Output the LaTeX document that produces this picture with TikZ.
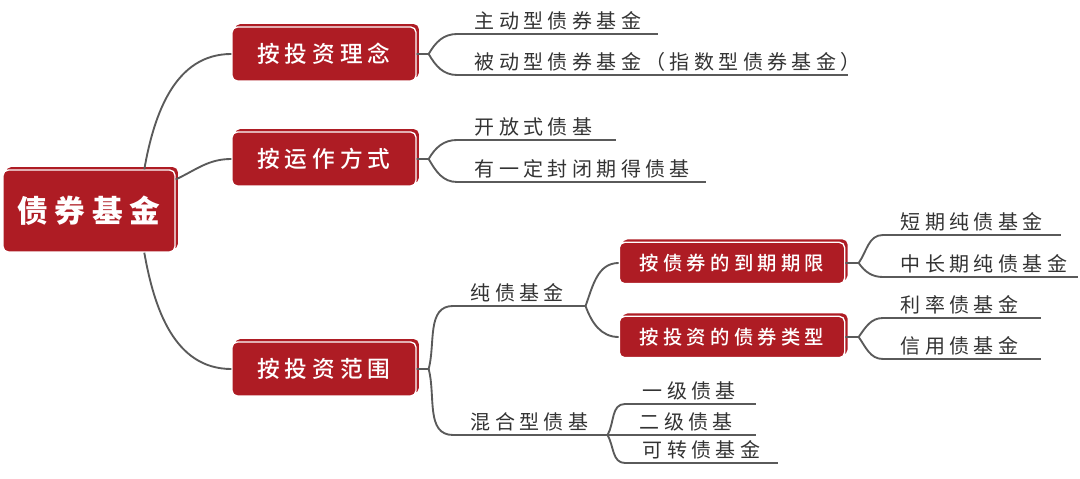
\documentclass[tikz,border=0pt]{standalone}
\usepackage{fontspec}
\setmainfont{Noto Sans CJK SC}[LetterSpace=22]
\newfontfamily\mediumcjk{Noto Sans CJK SC Medium}[LetterSpace=22]
\usetikzlibrary{positioning, shadows}

\definecolor{boxred}{HTML}{AE1C24}
\definecolor{linegray}{HTML}{5A5A5A}
\definecolor{textgray}{HTML}{333333}

\begin{document}
\begin{tikzpicture}[
    x=0.75pt, y=0.75pt,
    line/.style={draw=linegray, line width=1.4pt},
    box/.style={fill=boxred, draw=white, line width=1pt, rounded corners=4pt, text=white, inner sep=0pt,
        general shadow={fill=boxred, shadow xshift=2.2pt, shadow yshift=2.2pt}},
    rootbox/.style={box, minimum width=129pt, minimum height=61.5pt, font=\bfseries\fontsize{23}{23}\selectfont},
    topicbox/.style={box, minimum width=138pt, minimum height=40.5pt, font=\mediumcjk\fontsize{17}{17}\selectfont},
    subbox/.style={box, minimum width=169pt, minimum height=31pt, font=\mediumcjk\fontsize{14.5}{14.5}\selectfont},
    leaf/.style={anchor=south west, inner xsep=0pt, inner ysep=2.5pt, text width=#1, align=left,
        text=textgray, font=\fontsize{15}{15}\selectfont, execute at begin node=\hspace*{13pt}}
]
\useasboundingbox (0,0) rectangle (1080,478);

% Boxes
\node[rootbox] (root) at (89,267) {债券基金};
\node[topicbox] (b1) at (324,424) {按投资理念};
\node[topicbox] (b2) at (324,319) {按运作方式};
\node[topicbox] (b3) at (324,109) {按投资范围};
\node[subbox] (sA) at (732,215) {按债券的到期期限};
\node[subbox] (sB) at (732,141) {按投资的债券类型};

% Leaves
\node[leaf=150pt] (L11) at (457,444) {主动型债券基金};
\node[leaf=293pt] (L12) at (457,403) {被动型债券基金（指数型债券基金）};
\node[leaf=118.5pt] (L21) at (457,338) {开放式债基};
\node[leaf=186pt] (L22) at (457,296) {有一定封闭期得债基};
\node[leaf=99pt] (Lc) at (453,172) {纯债基金};
\node[leaf=115.5pt] (Lm) at (453,43) {混合型债基};
\node[leaf=133pt] (LA1) at (883,243) {短期纯债基金};
\node[leaf=145.5pt] (LA2) at (883,201) {中长期纯债基金};
\node[leaf=118pt] (LB1) at (883,160) {利率债基金};
\node[leaf=118pt] (LB2) at (883,119) {信用债基金};
\node[leaf=97.5pt] (Lm1) at (625,74) {一级债基};
\node[leaf=100pt] (Lm2) at (622,43) {二级债基};
\node[leaf=114pt] (Lm3) at (625,15) {可转债基金};

% Junctions
\coordinate[right=9pt of b1] (j1);
\coordinate[right=9pt of b2] (j2);
\coordinate[right=9pt of b3] (j3);
\coordinate[right=10pt of sA] (jA);
\coordinate[right=10pt of sB] (jB);

% Root branches
\draw[line] (root.37) to[out=80, in=180] (b1.west);
\draw[line] (root.20) to[out=25, in=180] (b2.west);
\draw[line] (root.-37) to[out=-80, in=180] (b3.west);

% Underlines
\foreach \n in {L11,L12,L21,L22,Lc,Lm,LA1,LA2,LB1,LB2,Lm1,Lm2,Lm3}
  \draw[line] (\n.south west) -- (\n.south east);

% Box branches
\draw[line] (b1.east) -- (j1) to[out=60, in=180] (L11.south west);
\draw[line] (j1) to[out=-60, in=180] (L12.south west);
\draw[line] (b2.east) -- (j2) to[out=60, in=180] (L21.south west);
\draw[line] (j2) to[out=-60, in=180] (L22.south west);
\draw[line] (b3.east) -- (j3) to[out=75, in=180] (Lc.south west);
\draw[line] (j3) to[out=-75, in=180] (Lm.south west);

\draw[line] (Lc.south east) to[out=70, in=180] (sA.west);
\draw[line] (Lc.south east) to[out=-70, in=180] (sB.west);
\draw[line] (sA.east) -- (jA) to[out=55, in=180] (LA1.south west);
\draw[line] (jA) to[out=-55, in=180] (LA2.south west);
\draw[line] (sB.east) -- (jB) to[out=55, in=180] (LB1.south west);
\draw[line] (jB) to[out=-55, in=180] (LB2.south west);

\draw[line] (Lm.south east) to[out=60, in=180] (Lm1.south west);
\draw[line] (Lm.south east) -- (Lm2.south west);
\draw[line] (Lm.south east) to[out=-60, in=180] (Lm3.south west);
\end{tikzpicture}
\end{document}
